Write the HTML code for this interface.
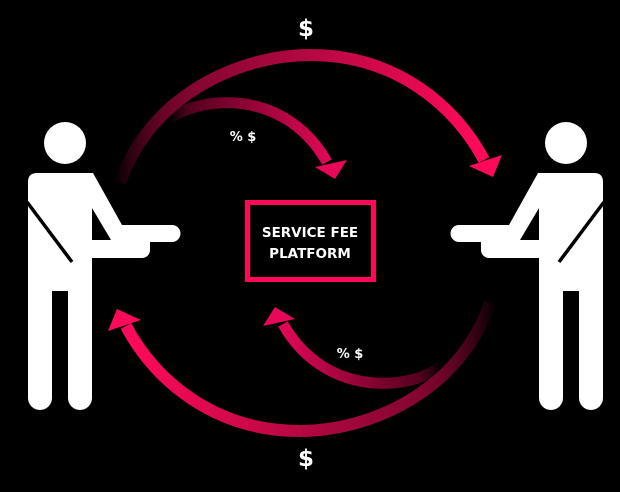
<!DOCTYPE html>
<html><head><meta charset="utf-8"><style>
html,body{margin:0;padding:0;background:#000;}
svg{display:block;}
text{font-family:"DejaVu Sans","Liberation Sans",sans-serif;font-weight:bold;fill:#fff;}
</style></head><body>
<svg width="620" height="492" viewBox="0 0 620 492" xmlns="http://www.w3.org/2000/svg">
<defs>
<linearGradient id="gb" gradientUnits="userSpaceOnUse" x1="118" y1="0" x2="480" y2="0">
<stop offset="0" stop-color="#ff0a5a" stop-opacity="0.05"/>
<stop offset="0.25" stop-color="#8a0633"/>
<stop offset="1" stop-color="#ff0a5a"/>
</linearGradient>
<linearGradient id="gi" gradientUnits="userSpaceOnUse" x1="170" y1="0" x2="335" y2="0">
<stop offset="0" stop-color="#8a0633" stop-opacity="0"/>
<stop offset="0.15" stop-color="#5a0020"/>
<stop offset="1" stop-color="#e8085a"/>
</linearGradient>
<g id="arcs">
<path d="M120,183 C150,95 240,55 310,55 C395,55 455,105 484,160" fill="none" stroke="url(#gb)" stroke-width="12"/>
<polygon points="469,166 502,155 493,177" fill="#ff0a5a"/>
<path d="M168,120 C200,95 285,88 327,162" fill="none" stroke="url(#gi)" stroke-width="11"/>
<polygon points="315,167 347,160 335,179" fill="#e8085a"/>
</g>
<g id="fig">
<circle cx="65" cy="143" r="21" fill="#fff"/>
<path d="M28,182 Q28,173 37,173 L93,173 L122,225 L172,225 A8.5,8.5 0 0 1 172,242 L150,242 L150,250 A8,8 0 0 1 142,258 L92,258 L92,398 A12,12 0 0 1 68,398 L68,291 L52,291 L52,398 A12,12 0 0 1 28,398 Z" fill="#fff"/>
<polygon points="92,208 92,240 111,240" fill="#000"/>
<line x1="27" y1="202" x2="72" y2="262" stroke="#000" stroke-width="3.5"/>
</g>
</defs>
<use href="#arcs"/>
<use href="#arcs" transform="rotate(180 305 243)"/>
<use href="#fig"/>
<use href="#fig" transform="translate(631,0) scale(-1,1)"/>
<rect x="247.5" y="202.5" width="126" height="77" fill="none" stroke="#ff0a5a" stroke-width="5"/>
<text x="310" y="237" font-size="13.5" text-anchor="middle">SERVICE FEE</text>
<text x="310" y="258" font-size="13.5" text-anchor="middle">PLATFORM</text>
<text x="306" y="36" font-size="23" text-anchor="middle">$</text>
<text x="306" y="466" font-size="23" text-anchor="middle">$</text>
<text x="243" y="141" font-size="13" text-anchor="middle">% $</text>
<text x="350" y="358" font-size="13" text-anchor="middle">% $</text>
</svg>
</body></html>
